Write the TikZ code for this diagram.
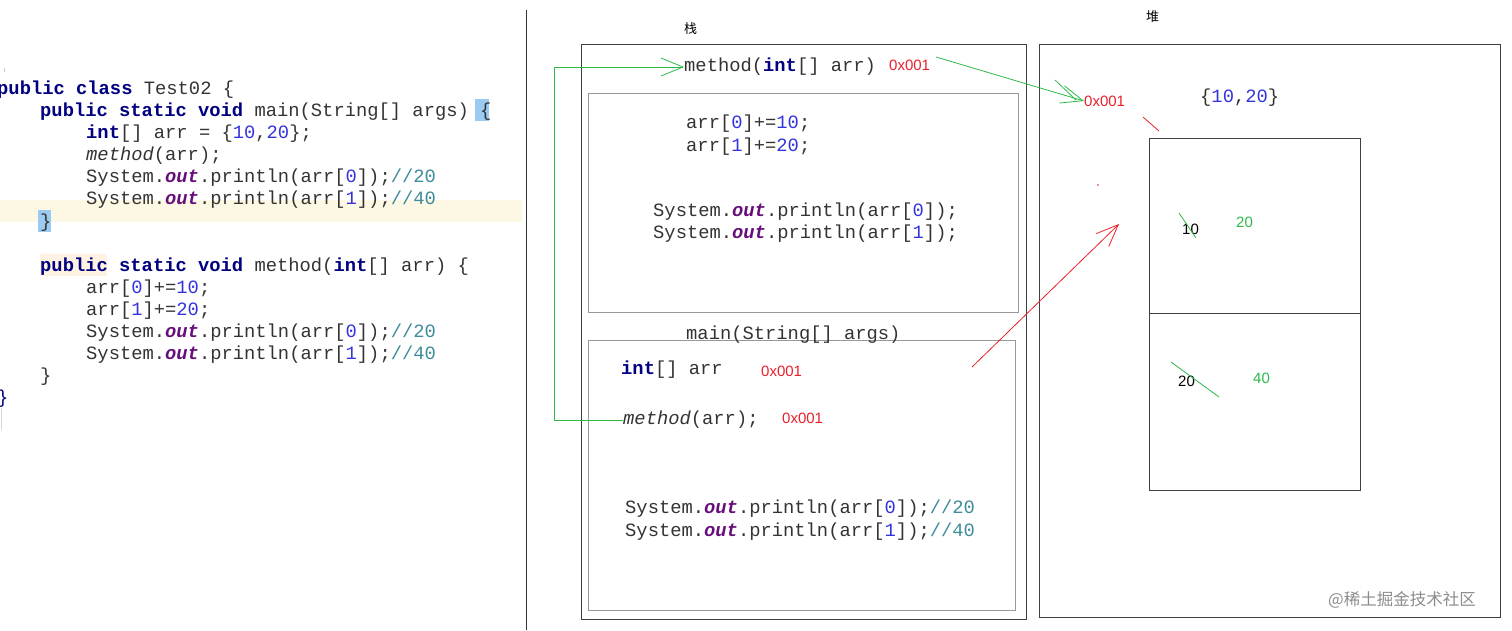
\documentclass[tikz,border=0pt]{standalone}
\usepackage{fontspec}
\setmainfont{Liberation Sans}
\newfontfamily\jmono{Liberation Mono}
\newfontfamily\jcjk{Noto Sans CJK SC}
\usetikzlibrary{arrows.meta}
\definecolor{kwc}{HTML}{000080}
\definecolor{numc}{HTML}{3333DD}
\definecolor{cmtc}{HTML}{3D8C9A}
\definecolor{outc}{HTML}{660E7A}
\definecolor{hlline}{HTML}{FDF8E3}
\definecolor{hlbr}{HTML}{9CCBF2}
\definecolor{addr}{HTML}{E8202A}
\definecolor{grn}{HTML}{2DB84A}
\newcommand\jkw[1]{{\bfseries\color{kwc}#1}}
\newcommand\jnum[1]{{\color{numc}#1}}
\newcommand\jcmt[1]{{\color{cmtc}#1}}
\newcommand\jout{{\bfseries\itshape\color{outc}out}}
\tikzset{
  code/.style={anchor=west,inner sep=0pt,font=\jmono\fontsize{18.8}{20}\selectfont,text=black!80},
  lab/.style={anchor=west,inner sep=0pt,font=\fontsize{15}{17}\selectfont},
  box/.style={draw=black!75,line width=1pt},
  ibox/.style={draw=black!40,line width=1pt},
  garrow/.style={draw=grn,line width=0.8pt,-{Straight Barb[length=22pt,width=18pt,line width=0.8pt]}},
  rarrow/.style={draw=addr,line width=0.8pt,-{Straight Barb[length=22pt,width=18pt,line width=0.8pt]}},
}
\begin{document}
\begin{tikzpicture}[x=1pt,y=-1pt]
\useasboundingbox (0,0) rectangle (1512,630);
% editor highlights
\fill[hlline] (0,200) rectangle (522,222);
\fill[hlbr] (475,99) rectangle (489,121);
\fill[hlbr] (38,210) rectangle (51,232);
\fill[hlline!80!orange!40] (40,254) rectangle (107,276);
\draw[black!20] (4,68) -- (4,72);
\draw[black!15] (1,408) -- (1,430);
\draw[black!80,line width=1pt] (526,10) -- (526,630);
% left code
\node[code] (l1) at (-3,90) {\jkw{public class} Test02 \{};
\node[code] (l2) at (40,112) {\jkw{public static void} main(String[] args) \{};
\node[code] (l3) at (86,134) {\jkw{int}[] arr = \{\jnum{10},\jnum{20}\};};
\node[code] (l4) at (86,156) {\textit{method}(arr);};
\node[code] (l5) at (86,178) {System.\jout.println(arr[\jnum{0}]);\jcmt{//20}};
\node[code] (l6) at (86,200) {System.\jout.println(arr[\jnum{1}]);\jcmt{//40}};
\node[code] (l7) at (40,223) {\}};
\node[code] (l8) at (40,267) {\jkw{public static void} method(\jkw{int}[] arr) \{};
\node[code] (l9) at (86,289) {arr[\jnum{0}]+=\jnum{10};};
\node[code] (l10) at (86,311) {arr[\jnum{1}]+=\jnum{20};};
\node[code] (l11) at (86,333) {System.\jout.println(arr[\jnum{0}]);\jcmt{//20}};
\node[code] (l12) at (86,355) {System.\jout.println(arr[\jnum{1}]);\jcmt{//40}};
\node[code] (l13) at (40,377) {\}};
\node[code,text=kwc] (l14) at (-3,399) {\}};
% titles
\node[lab,font=\jcjk\fontsize{13}{15}\selectfont] (t1) at (684,29) {栈};
\node[lab,font=\jcjk\fontsize{13}{15}\selectfont] (t2) at (1146,17) {堆};
% stack
\draw[box] (581,44) rectangle (1026,619);
\draw[ibox] (588,93) rectangle (1018,312);
\draw[ibox] (588,340) rectangle (1015,610);
\node[code] (s1) at (684,67) {method(\jkw{int}[] arr)};
\node[lab,text=addr] (a1) at (889,65) {0x001};
\node[code] (s2) at (686,124) {arr[\jnum{0}]+=\jnum{10};};
\node[code] (s3) at (686,147) {arr[\jnum{1}]+=\jnum{20};};
\node[code] (s4) at (653,212) {System.\jout.println(arr[\jnum{0}]);};
\node[code] (s5) at (653,234) {System.\jout.println(arr[\jnum{1}]);};
\node[code] (s6) at (686,335) {main(String[] args)};
\node[code] (s7) at (621,370) {\jkw{int}[] arr};
\node[lab,text=addr] (a2) at (761,371) {0x001};
\node[code] (s8) at (623,420) {\textit{method}(arr);};
\node[lab,text=addr] (a3) at (782,418) {0x001};
\node[code] (s9) at (625,509) {System.\jout.println(arr[\jnum{0}]);\jcmt{//20}};
\node[code] (s10) at (625,532) {System.\jout.println(arr[\jnum{1}]);\jcmt{//40}};
% heap
\draw[box] (1039,44) rectangle (1500,617);
\draw[box] (1149,138) rectangle (1360,490);
\draw[box] (1149,313) -- (1360,313);
\node[lab,text=addr] (h1) at (1084,101) {0x001};
\node[code] (h2) at (1200,98) {\{\jnum{10},\jnum{20}\}};
\node[lab] (h3) at (1182,229) {10};
\node[lab,text=grn] (h4) at (1236,222) {20};
\node[lab] (h5) at (1178,381) {20};
\node[lab,text=grn] (h6) at (1253,378) {40};
\node[lab,text=black!45,font=\jcjk\fontsize{16.5}{18}\selectfont] (wm) at (1328,600) {@稀土掘金技术社区};
% connectors
\coordinate (c1) at (554,420);
\coordinate (c2) at (554,67);
\draw[garrow] (s8.west) -- (c1) -- (c2) -- (s1.west);
\coordinate (c3) at (936,57);
\draw[garrow] (c3) -- (h1.west);
\draw[grn,line width=0.8pt] (1055,80) -- (1076,100);
\coordinate (r1) at (972,367);
\coordinate (r2) at (1119,224);
\draw[rarrow] (r1) -- (r2);
\draw[addr,line width=0.8pt] (1143,117) -- (1159,131);
\fill[addr] (1098,185) circle (0.8);
\draw[grn,line width=0.8pt] (1179,213) -- (1196,238);
\draw[grn,line width=0.8pt] (1171,362) -- (1219,397);
\end{tikzpicture}
\end{document}
